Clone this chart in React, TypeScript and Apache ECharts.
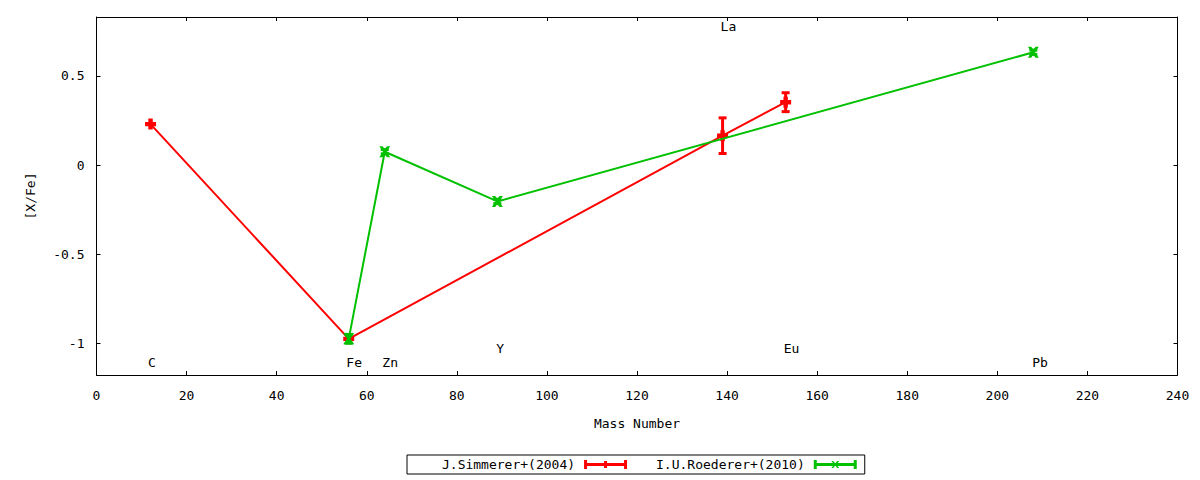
import React, { useEffect, useRef } from "react";
import * as echarts from "echarts";

// ---- data ----
const simmererName = "J.Simmerer+(2004)";
const roedererName = "I.U.Roederer+(2010)";

const simmererMass = [12, 56, 139, 153];
const simmererXFe = [0.23, -0.975, 0.165, 0.353];
const simmererErr = [0, 0, 0.1, 0.053];

const roedererMass = [56, 64, 89, 208];
const roedererXFe = [-0.975, 0.075, -0.204, 0.633];
const roedererErr = [0.025, 0.012, 0.012, 0.012];

const elementNames = ["C", "Fe", "Zn", "Y", "La", "Eu", "Pb"];
const elementLabelX = [12.3, 57.2, 65.2, 89.6, 140.3, 154.3, 209.5];
const elementLabelY = [-1.108, -1.108, -1.108, -1.031, 0.777, -1.031, -1.108];

const yTickValues = [-1, -0.5, 0, 0.5];

const RED = "#ff0000";
const GREEN = "#00c000";
const FONT = "DejaVu Sans Mono";

const plusSymbol = "path://M3,0H7V3H10V7H7V10H3V7H0V3H3Z";
const crossSymbol = "path://M0,0H3L5,2.5L7,0H10L6.5,5L10,10H7L5,7.5L3,10H0L3.5,5Z";
const legendRedIcon =
  "path://M0,0H3V3H40V0H43V9H40V6H3V9H0Z M20,1H23V8H20Z";
const legendGreenIcon =
  "path://M0,0H3V3H40V0H43V9H40V6H3V9H0Z M17.5,1H19.5L21.5,3.5L23.5,1H25.5L22.5,4.5L25.5,8H23.5L21.5,5.5L19.5,8H17.5L20.5,4.5Z";

function errorRenderer(color: string) {
  return (params: any, api: any) => {
    const x = api.value(0);
    const y = api.value(1);
    const e = api.value(2);
    if (!(e > 0)) return null;
    const top = api.coord([x, y + e]);
    const bot = api.coord([x, y - e]);
    return {
      type: "group",
      children: [
        {
          type: "line",
          shape: { x1: top[0], y1: top[1], x2: bot[0], y2: bot[1] },
          style: { stroke: color, lineWidth: 3 },
        },
        {
          type: "rect",
          shape: { x: top[0] - 4, y: top[1] - 1.5, width: 8, height: 3 },
          style: { fill: color },
        },
        {
          type: "rect",
          shape: { x: bot[0] - 4, y: bot[1] - 1.5, width: 8, height: 3 },
          style: { fill: color },
        },
      ],
    };
  };
}

export default function App() {
  const ref = useRef<HTMLDivElement>(null);

  useEffect(() => {
    if (!ref.current) return;
    const chart = echarts.init(ref.current, undefined, { renderer: "svg" });

    const simLine = simmererMass.map((m, i) => [m, simmererXFe[i]]);
    const simErr = simmererMass.map((m, i) => [m, simmererXFe[i], simmererErr[i]]);
    const roeLine = roedererMass.map((m, i) => [m, roedererXFe[i]]);
    const roeErr = roedererMass.map((m, i) => [m, roedererXFe[i], roedererErr[i]]);
    const labels = elementNames.map((n, i) => ({
      name: n,
      value: [elementLabelX[i], elementLabelY[i]],
    }));

    const axisLine = { show: true, onZero: false, lineStyle: { color: "#000", width: 1 } };
    const axisTick = { show: true, inside: true, length: 4, lineStyle: { color: "#000", width: 1 } };

    chart.setOption({
      animation: false,
      textStyle: { fontFamily: FONT, color: "#000" },
      grid: { left: 96.5, right: 22.5, top: 17, bottom: 105, containLabel: false },
      legend: {
        left: 407,
        top: 455,
        width: 470,
        align: "right",
        orient: "horizontal",
        itemWidth: 43,
        itemHeight: 9,
        itemGap: 29,
        borderColor: "#000",
        borderWidth: 1,
        borderRadius: 0,
        padding: [3, 8, 3, 35],
        selectedMode: false,
        textStyle: { fontFamily: FONT, fontSize: 13, color: "#000", padding: [0, 4, 0, 0] },
        data: [
          { name: simmererName, icon: legendRedIcon },
          { name: roedererName, icon: legendGreenIcon },
        ],
      },
      xAxis: [
        {
          type: "value",
          min: 0,
          max: 240,
          interval: 20,
          position: "bottom",
          name: "Mass Number",
          nameLocation: "middle",
          nameGap: 42,
          nameTextStyle: { fontFamily: FONT, fontSize: 13, color: "#000" },
          axisLine,
          axisTick,
          splitLine: { show: false },
          axisLabel: { fontFamily: FONT, fontSize: 13, color: "#000", margin: 14 },
        },
        {
          type: "value",
          min: 0,
          max: 240,
          interval: 20,
          position: "top",
          axisLine,
          axisTick,
          splitLine: { show: false },
          axisLabel: { show: false },
        },
      ],
      yAxis: [
        {
          type: "value",
          min: -1.178,
          max: 0.831,
          position: "left",
          name: "[X/Fe]",
          nameLocation: "middle",
          nameGap: 60,
          nameRotate: 90,
          nameTextStyle: { fontFamily: FONT, fontSize: 13, color: "#000" },
          axisLine,
          axisTick: { ...axisTick, customValues: yTickValues },
          splitLine: { show: false },
          axisLabel: {
            fontFamily: FONT,
            fontSize: 13,
            color: "#000",
            margin: 12,
            customValues: yTickValues,
          },
        },
        {
          type: "value",
          min: -1.178,
          max: 0.831,
          position: "right",
          axisLine,
          axisTick: { ...axisTick, customValues: yTickValues },
          splitLine: { show: false },
          axisLabel: { show: false, customValues: yTickValues },
        },
      ],
      series: [
        {
          name: simmererName,
          type: "line",
          data: simLine,
          color: RED,
          lineStyle: { color: RED, width: 2 },
          itemStyle: { color: RED },
          symbol: plusSymbol,
          symbolSize: 11,
          showAllSymbol: true,
          z: 2,
        },
        {
          name: simmererName,
          type: "custom",
          data: simErr,
          color: RED,
          encode: { x: 0, y: 1 },
          renderItem: errorRenderer(RED),
          z: 3,
        },
        {
          name: roedererName,
          type: "line",
          data: roeLine,
          color: GREEN,
          lineStyle: { color: GREEN, width: 2 },
          itemStyle: { color: GREEN },
          symbol: crossSymbol,
          symbolSize: 11,
          showAllSymbol: true,
          z: 4,
        },
        {
          name: roedererName,
          type: "custom",
          data: roeErr,
          color: GREEN,
          encode: { x: 0, y: 1 },
          renderItem: errorRenderer(GREEN),
          z: 5,
        },
        {
          name: "elements",
          type: "scatter",
          data: labels,
          symbolSize: 0,
          silent: true,
          z: 6,
          itemStyle: { opacity: 1 },
          label: {
            show: true,
            position: "inside",
            formatter: (p: any) => p.name,
            fontFamily: FONT,
            fontSize: 13,
            color: "#000",
            opacity: 1,
            textBorderWidth: 0,
          },
        },
      ],
    });

    return () => chart.dispose();
  }, []);

  return (
    <div
      ref={ref}
      style={{ position: "absolute", left: 0, top: 0, width: 1200, height: 480, background: "#fff" }}
    />
  );
}
